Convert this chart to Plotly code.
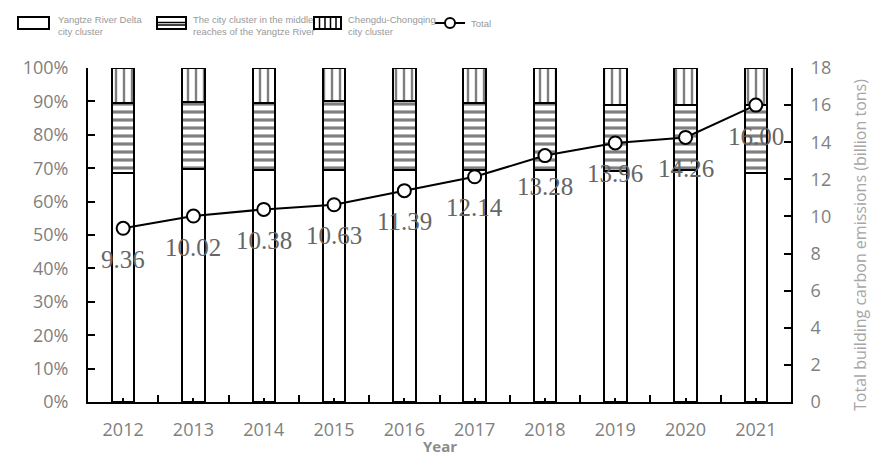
import plotly.graph_objects as go

years = [2012, 2013, 2014, 2015, 2016, 2017, 2018, 2019, 2020, 2021]
yrd_share = [68.6, 69.7, 69.5, 69.5, 69.6, 69.5, 69.4, 69.3, 69.4, 68.6]
middle_share = [20.9, 20.0, 19.9, 20.5, 20.4, 20.1, 20.0, 19.6, 19.5, 20.3]
cc_share = [10.5, 10.3, 10.6, 10.0, 10.0, 10.4, 10.6, 11.1, 11.1, 11.1]
total = [9.36, 10.02, 10.38, 10.63, 11.39, 12.14, 13.28, 13.96, 14.26, 16.00]
total_labels = ["9.36", "10.02", "10.38", "10.63", "11.39", "12.14", "13.28", "13.96", "14.26", "16.00"]

W, H = 871, 456
L, R, T, B = 88, 80, 68, 54
PW, PH = W - L - R, H - T - B


def px(x):
    return (x - L) / PW


def py(y):
    return (H - B - y) / PH


TICK_GREY = "#7f7f7f"
LEG_GREY = "#999999"

fig = go.Figure()

bar_line = dict(color="black", width=2)
fig.add_trace(go.Bar(
    x=years, y=[v / 100 for v in yrd_share], width=0.32,
    name="Yangtze River Delta city cluster",
    marker=dict(color="white", line=bar_line),
))
fig.add_trace(go.Bar(
    x=years, y=[v / 100 for v in middle_share], width=0.32,
    name="The city cluster in the middle reaches of the Yangtze River",
    marker=dict(color="white", line=bar_line,
                pattern=dict(shape="-", fgcolor="black", bgcolor="white", size=8, solidity=0.4)),
))
fig.add_trace(go.Bar(
    x=years, y=[v / 100 for v in cc_share], width=0.32,
    name="Chengdu-Chongqing city cluster",
    marker=dict(color="white", line=bar_line,
                pattern=dict(shape="|", fgcolor="black", bgcolor="white", size=8, solidity=0.3)),
))
fig.add_trace(go.Scatter(
    x=years, y=total, yaxis="y2", mode="lines+markers", name="Total",
    line=dict(color="black", width=2),
    marker=dict(symbol="circle", size=13, color="white", line=dict(color="black", width=2)),
))

annotations = []
for yr, v, lab in zip(years, total, total_labels):
    annotations.append(dict(
        x=yr, y=v, xref="x", yref="y2", text=lab, showarrow=False,
        yshift=-31, xanchor="center", yanchor="middle",
        font=dict(family="Liberation Serif, Times New Roman, serif", size=25, color="#666666"),
    ))

# Axis titles
annotations.append(dict(
    x=px(860), y=py(245), xref="paper", yref="paper", textangle=-90,
    text="Total building carbon emissions (billion tons)", showarrow=False,
    xanchor="center", yanchor="middle",
    font=dict(family="Open Sans, sans-serif", size=16, color="#a6a6a6"),
))
annotations.append(dict(
    x=px(440), y=py(446), xref="paper", yref="paper",
    text="<b>Year</b>", showarrow=False, xanchor="center", yanchor="middle",
    font=dict(family="Open Sans, sans-serif", size=15, color="#8c8c8c"),
))

# Manual legend
leg_font = dict(family="Liberation Sans, Arial, sans-serif", size=9.5, color=LEG_GREY)
legend_texts = [
    (56, 25, "Yangtze River Delta<br>city cluster"),
    (191, 25, "The city cluster in the middle<br>reaches of the Yangtze River"),
    (346, 25, "Chengdu-Chongqing<br>city cluster"),
    (469, 23, "Total"),
]
for x0, y0, t in legend_texts:
    annotations.append(dict(
        x=px(x0), y=py(y0), xref="paper", yref="paper", text=t, showarrow=False,
        xanchor="left", yanchor="middle", align="left", font=leg_font,
    ))

shapes = []
blk = dict(color="black", width=2)
for x0, x1 in [(18, 49), (157, 186), (314, 341)]:
    shapes.append(dict(type="rect", xref="paper", yref="paper",
                       x0=px(x0), x1=px(x1), y0=py(17), y1=py(29), line=blk, fillcolor="white"))
for yy in (22.5, 25):
    shapes.append(dict(type="line", xref="paper", yref="paper",
                       x0=px(157), x1=px(186), y0=py(yy), y1=py(yy), line=dict(color="black", width=1.5)))
for xx in (319.5, 325, 330.5, 336):
    shapes.append(dict(type="line", xref="paper", yref="paper",
                       x0=px(xx), x1=px(xx), y0=py(17), y1=py(29), line=dict(color="black", width=1.5)))
shapes.append(dict(type="line", xref="paper", yref="paper",
                   x0=px(435), x1=px(465), y0=py(23), y1=py(23), line=blk))
shapes.append(dict(type="circle", xref="paper", yref="paper",
                   x0=px(445), x1=px(455), y0=py(18), y1=py(28), line=blk, fillcolor="white"))

tick_font = dict(family="Open Sans, sans-serif", size=18, color=TICK_GREY)

fig.update_layout(
    width=W, height=H, autosize=False,
    margin=dict(l=L, r=R, t=T, b=B, pad=0),
    paper_bgcolor="white", plot_bgcolor="white",
    barmode="stack", showlegend=False,
    xaxis=dict(
        range=[2011.5, 2021.5], tickmode="linear", tick0=2012, dtick=1,
        ticks="inside", ticklen=4, tickwidth=2, tickcolor="black",
        showline=True, linecolor="black", linewidth=2, showgrid=False, zeroline=False,
        tickfont=tick_font, ticklabelstandoff=10,
        minor=dict(tick0=2011.5, dtick=1, ticks="inside", ticklen=7, tickwidth=2, tickcolor="black", showgrid=False),
    ),
    yaxis=dict(
        range=[0, 1], tickmode="linear", tick0=0, dtick=0.1, tickformat=".0%",
        ticks="inside", ticklen=7, tickwidth=2, tickcolor="black",
        showline=True, linecolor="black", linewidth=2, showgrid=False, zeroline=False,
        tickfont=tick_font, ticklabelstandoff=14,
    ),
    yaxis2=dict(
        range=[0, 18], tickmode="linear", tick0=0, dtick=2, overlaying="y", side="right",
        ticks="inside", ticklen=7, tickwidth=2, tickcolor="black",
        showline=True, linecolor="black", linewidth=2, showgrid=False, zeroline=False,
        tickfont=tick_font, ticklabelstandoff=14,
    ),
    annotations=annotations,
    shapes=shapes,
)

fig.write_html("out.html")
